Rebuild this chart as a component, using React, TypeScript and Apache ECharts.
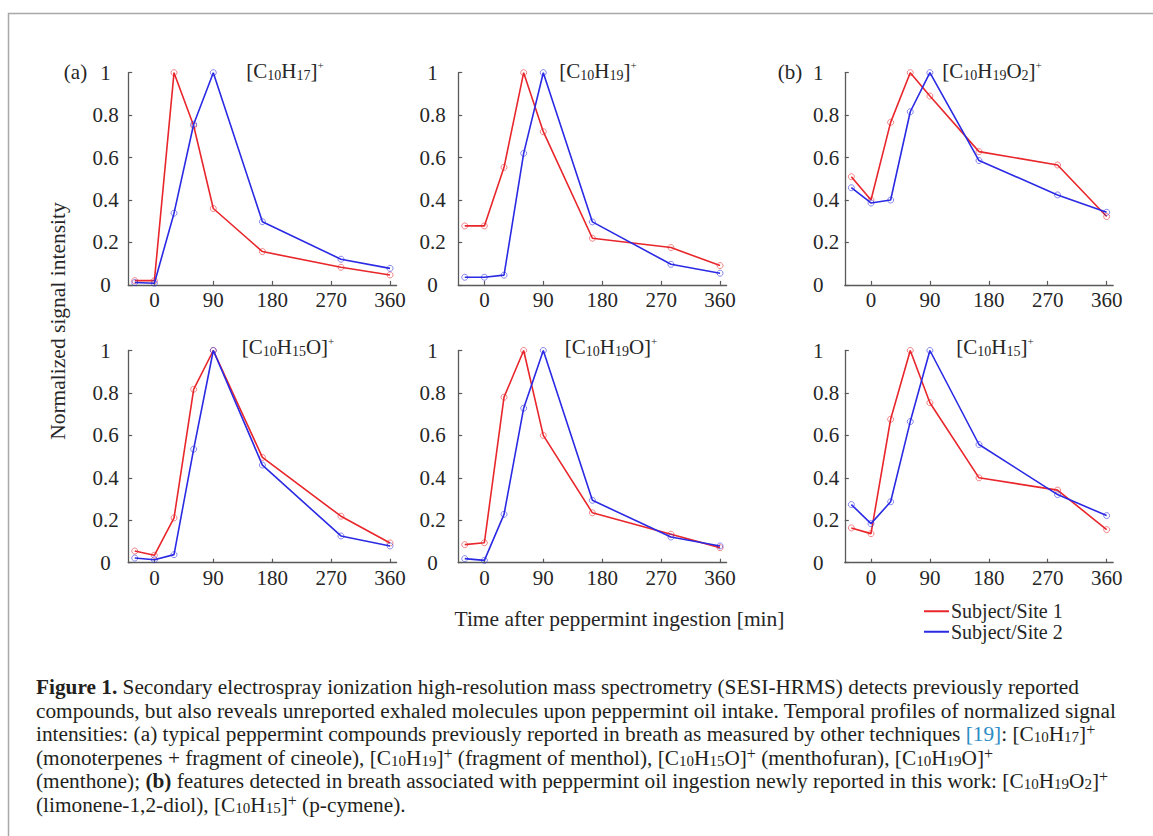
import React, { useEffect, useRef } from 'react';
import * as echarts from 'echarts';

// ---------- data ----------
const times = [-30, 0, 30, 60, 90, 165, 285, 360];
const xTickValues = [0, 90, 180, 270, 360];

const c10h17Site1 = [0.02, 0.02, 1.0, 0.75, 0.36, 0.157, 0.083, 0.047];
const c10h17Site2 = [0.011, 0.008, 0.338, 0.757, 1.0, 0.298, 0.121, 0.078];
const c10h19Site1 = [0.278, 0.278, 0.554, 1.0, 0.722, 0.22, 0.176, 0.091];
const c10h19Site2 = [0.036, 0.036, 0.046, 0.62, 1.0, 0.297, 0.097, 0.055];
const c10h19o2Site1 = [0.51, 0.4, 0.766, 1.0, 0.89, 0.628, 0.565, 0.322];
const c10h19o2Site2 = [0.458, 0.386, 0.4, 0.816, 1.0, 0.586, 0.424, 0.342];
const c10h15oSite1 = [0.055, 0.035, 0.211, 0.817, 1.0, 0.496, 0.219, 0.093];
const c10h15oSite2 = [0.022, 0.014, 0.038, 0.535, 1.0, 0.46, 0.126, 0.079];
const c10h19oSite1 = [0.085, 0.094, 0.78, 1.0, 0.6, 0.235, 0.134, 0.071];
const c10h19oSite2 = [0.019, 0.011, 0.228, 0.728, 1.0, 0.294, 0.121, 0.079];
const c10h15Site1 = [0.164, 0.137, 0.676, 1.0, 0.754, 0.4, 0.342, 0.156];
const c10h15Site2 = [0.274, 0.184, 0.287, 0.665, 1.0, 0.557, 0.321, 0.222];

const panelTitles = [
  '[C{s|10}H{s|17}]{p|+}',
  '[C{s|10}H{s|19}]{p|+}',
  '[C{s|10}H{s|19}O{s|2}]{p|+}',
  '[C{s|10}H{s|15}O]{p|+}',
  '[C{s|10}H{s|19}O]{p|+}',
  '[C{s|10}H{s|15}]{p|+}',
];
const site1Series = [c10h17Site1, c10h19Site1, c10h19o2Site1, c10h15oSite1, c10h19oSite1, c10h15Site1];
const site2Series = [c10h17Site2, c10h19Site2, c10h19o2Site2, c10h15oSite2, c10h19oSite2, c10h15Site2];
const seriesNames = ['Subject/Site 1', 'Subject/Site 2'];
const panelTags = ['(a)', '(b)'];
const yAxisName = 'Normalized signal intensity';
const xAxisName = 'Time after peppermint ingestion [min]';

const captionLines = [
  '{b|Figure 1.} Secondary electrospray ionization high-resolution mass spectrometry (SESI-HRMS) detects previously reported',
  'compounds, but also reveals unreported exhaled molecules upon peppermint oil intake. Temporal profiles of normalized signal',
  'intensities: (a) typical peppermint compounds previously reported in breath as measured by other techniques {l|[19]}: [C{s|10}H{s|17}]{p|+}',
  '(monoterpenes + fragment of cineole), [C{s|10}H{s|19}]{p|+} (fragment of menthol), [C{s|10}H{s|15}O]{p|+} (menthofuran), [C{s|10}H{s|19}O]{p|+}',
  '(menthone); {b|(b)} features detected in breath associated with peppermint oil ingestion newly reported in this work: [C{s|10}H{s|19}O{s|2}]{p|+}',
  '(limonene-1,2-diol), [C{s|10}H{s|15}]{p|+} (p-cymene).',
];

// ---------- layout / style ----------
const SERIF = '"Liberation Serif", "Times New Roman", serif';
const RED = '#e8262b';
const BLUE = '#2a2ae4';
const RED_MK = 'rgba(232,38,43,0.55)';
const BLUE_MK = 'rgba(42,42,228,0.55)';
const AXIS = '#5a5a5a';
const TXT = '#262626';
const CAP = '#231f20';

const colLeft = [128.2, 458.2, 844.8];
const gridW = 268.4;
const rowTop = [72.7, 350.5];
const gridH = 212.2;
const titleX = [285, 598, 992, 288, 611, 995];
const titleY = [71, 347];
const yLabelAlign = ['center', 'center', 'left'];
const yLabelMargin = [22.7, 25.7, 31.8];
const CAP_SIZE = 21.3;

function buildOption() {
  const grids: any[] = [];
  const xAxes: any[] = [];
  const yAxes: any[] = [];
  const series: any[] = [];
  const graphics: any[] = [];

  for (let i = 0; i < 6; i++) {
    const col = i % 3;
    const row = Math.floor(i / 3);
    grids.push({ left: colLeft[col], top: rowTop[row], width: gridW, height: gridH });
    xAxes.push({
      type: 'value', gridIndex: i, min: -40, max: 370,
      axisLine: { show: true, onZero: false, lineStyle: { color: AXIS, width: 1.3 } },
      axisTick: { show: true, inside: true, length: 4, customValues: xTickValues, lineStyle: { color: AXIS, width: 1.2 } },
      axisLabel: { customValues: xTickValues, margin: 5, fontFamily: SERIF, fontSize: 21, color: TXT },
      splitLine: { show: false },
    });
    yAxes.push({
      type: 'value', gridIndex: i, min: 0, max: 1, interval: 0.2,
      axisLine: { show: true, onZero: false, lineStyle: { color: AXIS, width: 1.3 } },
      axisTick: { show: true, inside: true, length: 4, lineStyle: { color: AXIS, width: 1.2 } },
      axisLabel: { align: yLabelAlign[col], margin: yLabelMargin[col], fontFamily: SERIF, fontSize: 21, color: TXT },
      splitLine: { show: false },
    });
    [site1Series[i], site2Series[i]].forEach((vals, k) => {
      series.push({
        type: 'line', name: seriesNames[k], xAxisIndex: i, yAxisIndex: i,
        data: times.map((t, j) => [t, vals[j]]),
        symbol: 'circle', symbolSize: 6,
        lineStyle: { color: k === 0 ? RED : BLUE, width: 1.6 },
        itemStyle: { color: 'rgba(0,0,0,0)', borderColor: k === 0 ? RED_MK : BLUE_MK, borderWidth: 1 },
        emphasis: { disabled: true },
        silent: true,
        z: 2 + k,
      });
    });
    graphics.push({
      type: 'text', x: titleX[i], y: titleY[row], silent: true,
      style: {
        text: panelTitles[i], fontSize: 21, fontFamily: SERIF, fill: TXT,
        align: 'center', verticalAlign: 'middle', textAlign: 'center', textVerticalAlign: 'middle',
        rich: {
          s: { fontSize: 14, fontFamily: SERIF, padding: [9, 0, 0, 0] },
          p: { fontSize: 11, fontFamily: SERIF, padding: [0, 0, 13, 0] },
        },
      },
    });
  }

  // frame
  graphics.push({
    type: 'rect', silent: true, z: -1,
    shape: { x: 8.5, y: 13.5, width: 1300, height: 1000 },
    style: { fill: 'none', stroke: '#a8a8a8', lineWidth: 1.5 },
  });
  // panel tags
  graphics.push({ type: 'text', x: 75.5, y: 72, silent: true,
    style: { text: panelTags[0], fontSize: 21, fontFamily: SERIF, fill: TXT, align: 'center', verticalAlign: 'middle', textAlign: 'center', textVerticalAlign: 'middle' } });
  graphics.push({ type: 'text', x: 790, y: 72, silent: true,
    style: { text: panelTags[1], fontSize: 21, fontFamily: SERIF, fill: TXT, align: 'center', verticalAlign: 'middle', textAlign: 'center', textVerticalAlign: 'middle' } });
  // axis names
  graphics.push({ type: 'text', x: 58, y: 321, rotation: Math.PI / 2, silent: true,
    style: { text: yAxisName, fontSize: 21.5, fontFamily: SERIF, fill: TXT, align: 'center', verticalAlign: 'middle', textAlign: 'center', textVerticalAlign: 'middle' } });
  graphics.push({ type: 'text', x: 619.5, y: 619, silent: true,
    style: { text: xAxisName, fontSize: 21.5, fontFamily: SERIF, fill: TXT, align: 'center', verticalAlign: 'middle', textAlign: 'center', textVerticalAlign: 'middle' } });
  // caption
  captionLines.forEach((line, k) => {
    graphics.push({
      type: 'text', x: 36, y: 687 + k * 23.5, silent: true,
      style: {
        text: line, fontSize: CAP_SIZE, fontFamily: SERIF, fill: CAP,
        align: 'left', verticalAlign: 'middle', textAlign: 'left', textVerticalAlign: 'middle',
        rich: {
          b: { fontSize: CAP_SIZE, fontFamily: SERIF, fontWeight: 'bold', fill: CAP },
          l: { fontSize: CAP_SIZE, fontFamily: SERIF, fill: '#2a8cc4' },
          s: { fontSize: 15, fontFamily: SERIF, fill: CAP, padding: [6, 0, 0, 0] },
          p: { fontSize: 16, fontFamily: SERIF, fill: CAP, padding: [0, 0, 9, 0] },
        },
      },
    });
  });

  return {
    animation: false,
    backgroundColor: '#ffffff',
    grid: grids,
    xAxis: xAxes,
    yAxis: yAxes,
    series,
    legend: {
      orient: 'vertical', left: 919, top: 596,
      itemWidth: 25, itemHeight: 2, itemGap: 0, icon: 'rect', selectedMode: false,
      textStyle: { fontFamily: SERIF, fontSize: 20, color: TXT, lineHeight: 20.5, padding: [0, 0, 0, -3] },
      data: [
        { name: seriesNames[0], icon: 'rect', itemStyle: { color: RED, borderWidth: 0 } },
        { name: seriesNames[1], icon: 'rect', itemStyle: { color: BLUE, borderWidth: 0 } },
      ],
    },
    graphic: { elements: graphics },
  };
}

export default function App() {
  const ref = useRef<HTMLDivElement>(null);
  useEffect(() => {
    const chart = echarts.init(ref.current as HTMLDivElement, null, { renderer: 'svg' });
    chart.setOption(buildOption() as any);
    return () => chart.dispose();
  }, []);
  return (
    <div
      ref={ref}
      style={{ position: 'absolute', left: 0, top: 0, width: 1153, height: 836, background: '#fff' }}
    />
  );
}
